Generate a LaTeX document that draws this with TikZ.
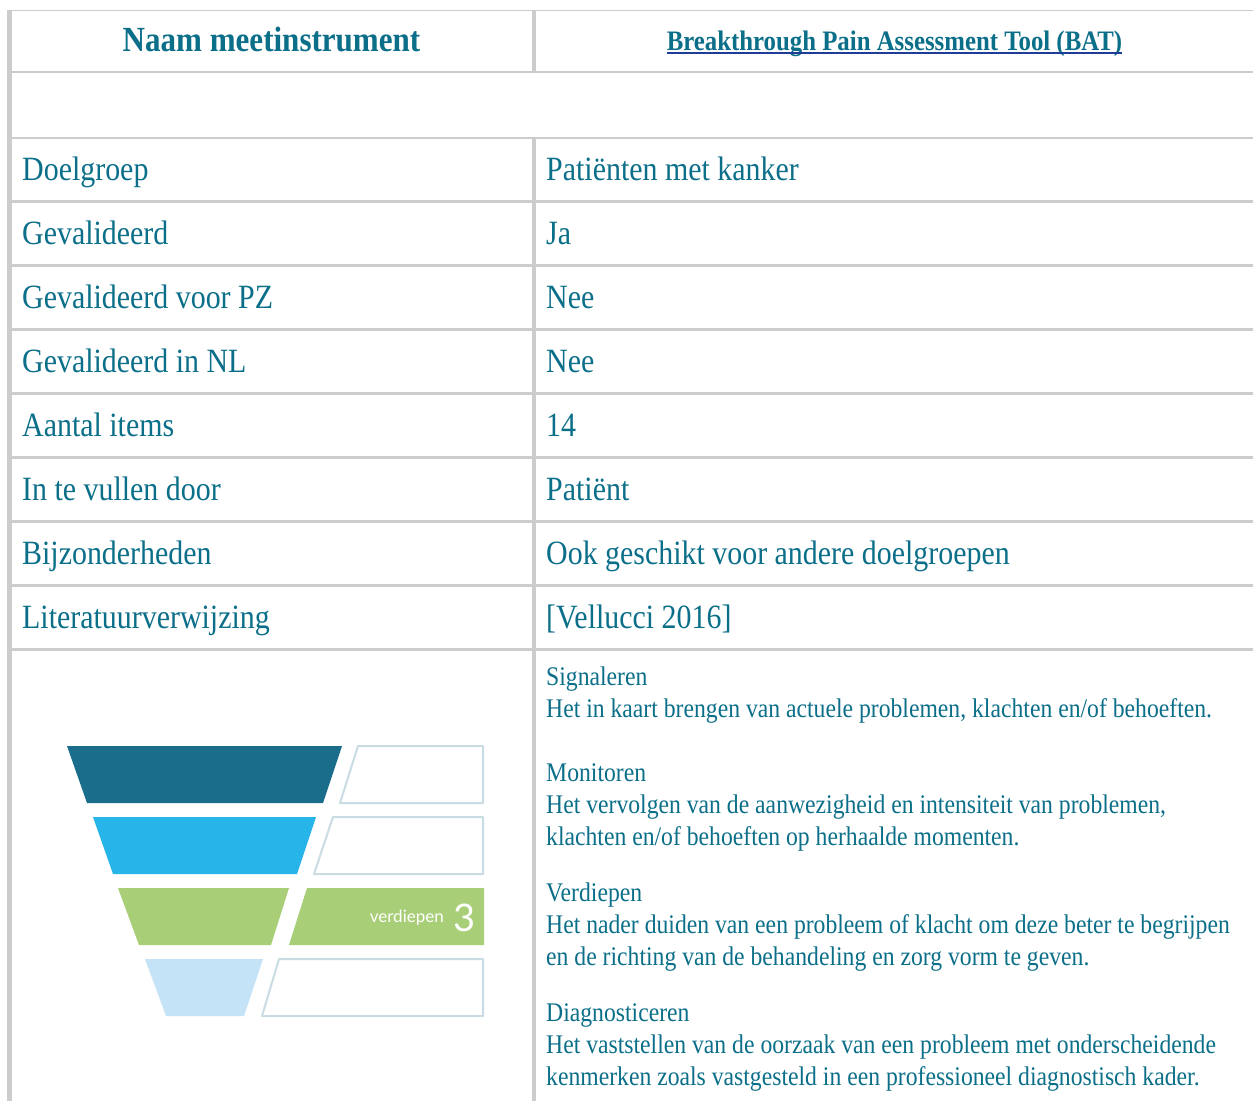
\documentclass[tikz,border=0pt]{standalone}
\usepackage{fontspec}
\setmainfont{Liberation Serif}[FakeStretch=0.88]
\newfontfamily\lato{Lato}
\definecolor{txt}{HTML}{0B6F89}
\definecolor{grid}{HTML}{CCCCCC}
\definecolor{ulc}{HTML}{1F3D96}
\definecolor{fdark}{HTML}{1B6E8B}
\definecolor{fblue}{HTML}{27B4E8}
\definecolor{fgreen}{HTML}{A8CE77}
\definecolor{flight}{HTML}{C5E3F6}
\definecolor{fline}{HTML}{C9DCE4}
\tikzset{
  lbl/.style={anchor=base west, inner sep=0pt, text=txt, font=\fontsize{34}{40}\selectfont},
  hdr/.style={anchor=base, inner sep=0pt, text=txt, font=\bfseries\fontsize{35.3}{40}\selectfont},
  ttl/.style={anchor=base, inner sep=0pt, text=txt, font=\bfseries\fontsize{28.2}{32}\selectfont},
  desc/.style={anchor=base west, inner sep=0pt, text=txt, font=\fontsize{26.9}{32}\selectfont},
  gline/.style={draw=grid, line width=3pt},
  outl/.style={draw=fline, line width=2pt, line join=round},
}
\begin{document}
\begin{tikzpicture}[x=1pt,y=-1pt]
\useasboundingbox (0,0) rectangle (1253,1101);
\fill[white] (0,0) rectangle (1253,1101);
% grid
\draw[grid, line width=1.5pt] (7,10.5) -- (1253,10.5);
\fill[grid] (7,10) rectangle (11.5,1101);
\draw[grid, line width=2pt] (7,72) -- (1253,72);
\draw[grid, line width=2pt] (7,138) -- (1253,138);
\fill[grid] (532,10) rectangle (535.5,73);
\fill[grid] (532,137) rectangle (535.5,1101);
\foreach \yy in {201,265,329,393,457,521,585,649}
  \draw[gline] (7,\yy) -- (1253,\yy);
% header
\node[hdr] (h1) at (271.5,51) {Naam meetinstrument};
\node[ttl] (h2) at (894.5,50) {Breakthrough Pain Assessment Tool (BAT)};
\draw[ulc, line width=2pt] ([yshift=-3pt]h2.base west) -- ([yshift=-3pt]h2.base east);
% rows
\node[lbl] (l1) at (22,180) {Doelgroep};
\node[lbl] (v1) at (546,180) {Patiënten met kanker};
\node[lbl] (l2) at (22,244) {Gevalideerd};
\node[lbl] (v2) at (546,244) {Ja};
\node[lbl] (l3) at (22,308) {Gevalideerd voor PZ};
\node[lbl] (v3) at (546,308) {Nee};
\node[lbl] (l4) at (22,372) {Gevalideerd in NL};
\node[lbl] (v4) at (546,372) {Nee};
\node[lbl] (l5) at (22,436) {Aantal items};
\node[lbl] (v5) at (546,436) {14};
\node[lbl] (l6) at (22,500) {In te vullen door};
\node[lbl] (v6) at (546,500) {Patiënt};
\node[lbl] (l7) at (22,564) {Bijzonderheden};
\node[lbl] (v7) at (546,564) {Ook geschikt voor andere doelgroepen};
\node[lbl] (l8) at (22,628) {Literatuurverwijzing};
\node[lbl] (v8) at (546,628) {[Vellucci 2016]};
% description
\node[desc] (d1) at (546,685) {Signaleren};
\node[desc] (d2) at (546,717) {Het in kaart brengen van actuele problemen, klachten en/of behoeften.};
\node[desc] (d3) at (546,781) {Monitoren};
\node[desc] (d4) at (546,813) {Het vervolgen van de aanwezigheid en intensiteit van problemen,};
\node[desc] (d5) at (546,845) {klachten en/of behoeften op herhaalde momenten.};
\node[desc] (d6) at (546,901) {Verdiepen};
\node[desc] (d7) at (546,933) {Het nader duiden van een probleem of klacht om deze beter te begrijpen};
\node[desc] (d8) at (546,965) {en de richting van de behandeling en zorg vorm te geven.};
\node[desc] (d9) at (546,1021) {Diagnosticeren};
\node[desc] (d10) at (546,1053) {Het vaststellen van de oorzaak van een probleem met onderscheidende};
\node[desc] (d11) at (546,1085) {kenmerken zoals vastgesteld in een professioneel diagnostisch kader.};
% funnel
\fill[fdark] (67,746) -- (342,746) -- (323,803) -- (87,803) -- cycle;
\draw[outl] (358,746) -- (483,746) -- (483,803) -- (340,803) -- cycle;
\fill[fblue] (93,817) -- (316,817) -- (297,874) -- (113,874) -- cycle;
\draw[outl] (333,817) -- (483,817) -- (483,874) -- (314,874) -- cycle;
\fill[fgreen] (118,888) -- (289,888) -- (271,945) -- (139,945) -- cycle;
\fill[fgreen] (307,888) -- (484,888) -- (484,945) -- (289,945) -- cycle;
\fill[flight] (145,959) -- (263,959) -- (244,1016) -- (166,1016) -- cycle;
\draw[outl] (279,959) -- (483,959) -- (483,1016) -- (262,1016) -- cycle;
\node[anchor=base east, inner sep=0pt, text=white, font=\lato\fontsize{17}{18}\selectfont] (fv) at (444,922) {verdiepen};
\node[anchor=base west, inner sep=0pt, text=white, font=\lato\fontsize{38}{40}\selectfont] (f3) at (453,931) {3};
\end{tikzpicture}
\end{document}
